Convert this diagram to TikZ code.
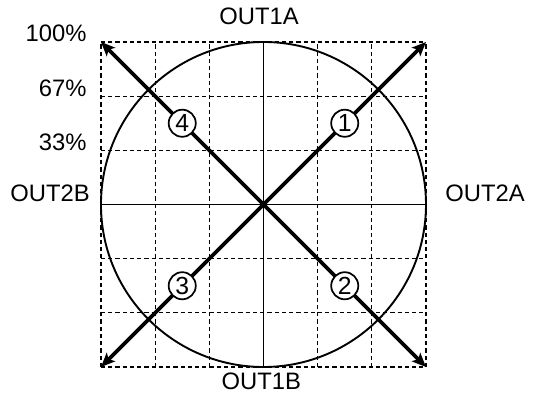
\documentclass[tikz,border=0pt]{standalone}
\usepackage{fontspec}
\setmainfont{Liberation Sans}
\usetikzlibrary{arrows.meta}
\begin{document}
\begin{tikzpicture}[font=\fontsize{12.5}{15}\selectfont,
  gridline/.style={line width=0.6pt,dash pattern=on 2.2pt off 1.6pt},
  axisline/.style={line width=1pt},
  vec/.style={line width=1.9pt,-{Stealth[length=2.6mm,width=2.2mm,inset=0.6mm]}},
  num/.style={circle,draw,line width=0.9pt,fill=white,minimum size=0.5cm,inner sep=0pt,font=\fontsize{13}{15}\selectfont}]
\useasboundingbox (-4.864,-3.535) rectangle (5.049,3.775);
% Raster 6 x 6, gestrichelt
\draw[gridline] (-3,-3) grid (3,3);
% Kreis und Achsen
\draw[axisline] (0,0) circle (3);
\coordinate (o) at (0,0);
\coordinate (top) at (0,3);
\coordinate (bot) at (0,-3);
\coordinate (lft) at (-3,0);
\coordinate (rgt) at (3,0);
\draw[axisline] (top) -- (bot);
\draw[axisline] (lft) -- (rgt);
% Ecken fuer die Pfeile
\coordinate (c1) at (3,3);
\coordinate (c2) at (3,-3);
\coordinate (c3) at (-3,-3);
\coordinate (c4) at (-3,3);
\draw[vec] (o) -- node[num] (n1) {1} (c1);
\draw[vec] (o) -- node[num] (n2) {2} (c2);
\draw[vec] (o) -- node[num] (n3) {3} (c3);
\draw[vec] (o) -- node[num] (n4) {4} (c4);
% Beschriftungen
\node[anchor=base] (out1a) at (-0.08,3.33) {OUT1A};
\node[anchor=base] (out1b) at (-0.04,-3.41) {OUT1B};
\node[anchor=base east,inner sep=0pt] (out2b) at (-3.20,0.05) {OUT2B};
\node[anchor=base west,inner sep=0pt] (out2a) at (3.35,0.05) {OUT2A};
\node[anchor=base east,inner sep=0pt] (p100) at (-3.26,3) {100\%};
\node[anchor=base east,inner sep=0pt] (p67) at (-3.26,2) {67\%};
\node[anchor=base east,inner sep=0pt] (p33) at (-3.26,1) {33\%};
\end{tikzpicture}
\end{document}
